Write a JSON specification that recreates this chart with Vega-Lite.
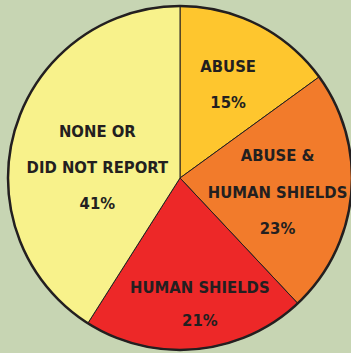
{
  "$schema": "https://vega.github.io/schema/vega-lite/v6.json",
  "width": 351,
  "height": 353,
  "autosize": {"type": "fit", "contains": "padding"},
  "padding": {"left": 9, "top": 3, "right": 0, "bottom": 0},
  "background": "#c7d5b3",
  "view": {"stroke": null},
  "data": {
    "values": [
      {"category": "ABUSE", "value": 15, "order": 1, "label": "ABUSE\n15%"},
      {"category": "ABUSE & HUMAN SHIELDS", "value": 23, "order": 2, "label": "ABUSE &\nHUMAN SHIELDS\n23%"},
      {"category": "HUMAN SHIELDS", "value": 21, "order": 3, "label": "HUMAN SHIELDS\n21%"},
      {"category": "NONE OR DID NOT REPORT", "value": 41, "order": 4, "label": "NONE OR\nDID NOT REPORT\n41%"}
    ]
  },
  "encoding": {
    "theta": {"field": "value", "type": "quantitative", "stack": true},
    "order": {"field": "order", "type": "quantitative"}
  },
  "layer": [
    {
      "mark": {"type": "arc", "radius": 172, "stroke": "#231f20", "strokeWidth": 1},
      "encoding": {
        "color": {
          "field": "category",
          "type": "nominal",
          "scale": {
            "domain": ["ABUSE", "ABUSE & HUMAN SHIELDS", "HUMAN SHIELDS", "NONE OR DID NOT REPORT"],
            "range": ["#fec62e", "#f27b2b", "#ed2828", "#f8f28b"]
          },
          "legend": null
        }
      }
    },
    {
      "mark": {"type": "text", "radius": 106, "dy": -17, "lineBreak": "\n", "lineHeight": 36, "font": "DejaVu Sans Condensed", "fontWeight": "bold", "fontSize": 16.5, "color": "#231f20", "baseline": "middle", "align": "center"},
      "encoding": {"text": {"condition": {"test": "datum.order == 1", "field": "label"}, "value": ""}}
    },
    {
      "mark": {"type": "text", "radius": 99, "dx": -1, "dy": -31, "lineBreak": "\n", "lineHeight": 36.5, "font": "DejaVu Sans Condensed", "fontWeight": "bold", "fontSize": 16.5, "color": "#231f20", "baseline": "middle", "align": "center"},
      "encoding": {"text": {"condition": {"test": "datum.order == 2", "field": "label"}, "value": ""}}
    },
    {
      "mark": {"type": "text", "radius": 126, "dx": 8, "dy": -15, "lineBreak": "\n", "lineHeight": 33, "font": "DejaVu Sans Condensed", "fontWeight": "bold", "fontSize": 16.5, "color": "#231f20", "baseline": "middle", "align": "center"},
      "encoding": {"text": {"condition": {"test": "datum.order == 3", "field": "label"}, "value": ""}}
    },
    {
      "mark": {"type": "text", "radius": 84, "dx": -2, "dy": -23, "lineBreak": "\n", "lineHeight": 36, "font": "DejaVu Sans Condensed", "fontWeight": "bold", "fontSize": 16.5, "color": "#231f20", "baseline": "middle", "align": "center"},
      "encoding": {"text": {"condition": {"test": "datum.order == 4", "field": "label"}, "value": ""}}
    },
    {
      "data": {"values": [{"ring": 1}]},
      "mark": {"type": "arc", "radius": 172, "theta": 0, "theta2": 6.2832, "fill": null, "filled": false, "stroke": "#231f20", "strokeWidth": 2.5},
      "encoding": {"theta": null, "order": null}
    }
  ]
}
